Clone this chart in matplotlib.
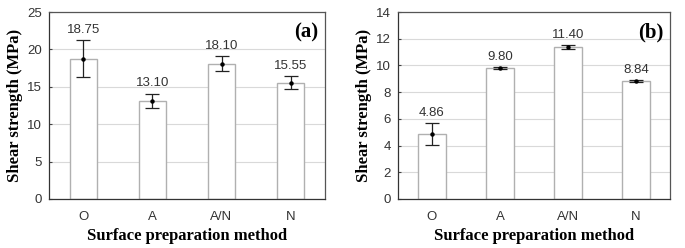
import matplotlib
matplotlib.use("Agg")
import matplotlib.pyplot as plt
import numpy as np

categories = ["O", "A", "A/N", "N"]
vals_a = [18.75, 13.10, 18.10, 15.55]
err_a = [2.45, 1.0, 1.05, 0.9]
labels_a = ["18.75", "13.10", "18.10", "15.55"]
vals_b = [4.86, 9.80, 11.40, 8.84]
err_b = [0.83, 0.06, 0.15, 0.06]
labels_b = ["4.86", "9.80", "11.40", "8.84"]

fig = plt.figure(figsize=(6.85, 2.48), dpi=100)
ax1 = fig.add_axes([0.0715, 0.1976, 0.403, 0.754])
ax2 = fig.add_axes([0.581, 0.1976, 0.397, 0.754])

serif = "Liberation Serif"
sans = "Liberation Sans"

def draw(ax, vals, errs, labels, ymax, ystep, tag):
    x = np.arange(len(categories))
    ax.set_axisbelow(True)
    ax.yaxis.grid(True, color="#d9d9d9", lw=0.8)
    ax.bar(x, vals, width=0.4, color="white", edgecolor="#b0b0b0", lw=1.0, zorder=2)
    ax.errorbar(x, vals, yerr=errs, fmt="o", color="black", ms=2.2, ecolor="#222222",
                elinewidth=0.9, capsize=5, capthick=0.9, zorder=3)
    for xi, v, e, lab in zip(x, vals, errs, labels):
        ax.annotate(lab, (xi, v + e), xytext=(0, 3), textcoords="offset points",
                    ha="center", va="bottom", fontsize=9.5, family=sans, color="#333333")
    ax.set_xlim(-0.5, 3.5)
    ax.set_ylim(0, ymax)
    ax.set_yticks(np.arange(0, ymax + 0.01, ystep))
    ax.set_xticks(x)
    ax.set_xticklabels(categories)
    for lab in ax.get_xticklabels() + ax.get_yticklabels():
        lab.set_family(sans)
        lab.set_fontsize(9.5)
        lab.set_color("#333333")
    ax.tick_params(direction="in", length=2.5, width=0.8, color="#444444", pad=5)
    ax.tick_params(axis="x", pad=9)
    for s in ax.spines.values():
        s.set_color("#555555")
        s.set_linewidth(0.9)
    ax.spines["left"].set_color("#333333")
    ax.spines["bottom"].set_color("#333333")
    ax.set_ylabel("Shear strength (MPa)", family=serif, fontweight="bold", fontsize=12, labelpad=3)
    ax.set_xlabel("Surface preparation method", family=serif, fontweight="bold", fontsize=12, labelpad=3)
    ax.text(0.975, 0.89, tag, transform=ax.transAxes, ha="right", va="center",
            family=serif, fontweight="bold", fontsize=15)

draw(ax1, vals_a, err_a, labels_a, 25, 5, "(a)")
draw(ax2, vals_b, err_b, labels_b, 14, 2, "(b)")

fig.savefig("out.png", dpi=100)
